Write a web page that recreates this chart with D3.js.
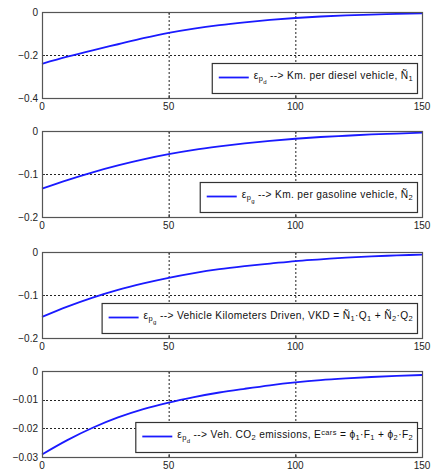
<!DOCTYPE html>
<html>
<head>
<meta charset="utf-8">
<script src="https://cdn.jsdelivr.net/npm/d3@7"></script>
<style>
  body { margin: 0; background: #fff; }
  svg { display: block; font-family: "Liberation Sans", Arial, sans-serif; }
</style>
</head>
<body>
<script>
const width = 432;
const height = 475;

// data
const xs = [0, 10, 20, 30, 40, 50, 60, 70, 80, 90, 100, 110, 120, 130, 140, 150];
const dieselKm = [-0.241, -0.208, -0.178, -0.150, -0.122, -0.097, -0.077, -0.061, -0.048, -0.037, -0.028, -0.021, -0.016, -0.012, -0.009, -0.006];
const gasolineKm = [-0.134, -0.114, -0.096, -0.080, -0.066, -0.054, -0.044, -0.036, -0.029, -0.023, -0.018, -0.014, -0.011, -0.008, -0.006, -0.004];
const vkd = [-0.151, -0.127, -0.106, -0.088, -0.073, -0.060, -0.049, -0.040, -0.033, -0.027, -0.021, -0.017, -0.013, -0.010, -0.008, -0.006];
const co2 = [-0.0291, -0.0241, -0.0198, -0.0162, -0.0133, -0.0110, -0.0091, -0.0075, -0.0062, -0.0050, -0.0040, -0.0032, -0.0026, -0.0021, -0.0017, -0.0014];

const xTicks = [0, 50, 100, 150];
const yTicks1 = [0, -0.2, -0.4];
const yTicks2 = [0, -0.1, -0.2];
const yTicks3 = [0, -0.1, -0.2];
const yTicks4 = [0, -0.01, -0.02, -0.03];

// legend pieces: [text, kind] ; 'sub' = subscript, 'sub2' = sub-subscript, 'sup' = superscript
const legend1 = [['ε', ''], ['p', 'sub'], ['d', 'sub2'], [' --> Km. per diesel vehicle, Ñ', ''], ['1', 'sub']];
const legend2 = [['ε', ''], ['p', 'sub'], ['g', 'sub2'], [' --> Km. per gasoline vehicle, Ñ', ''], ['2', 'sub']];
const legend3 = [['ε', ''], ['p', 'sub'], ['g', 'sub2'], [' --> Vehicle Kilometers Driven, VKD = Ñ', ''], ['1', 'sub'], ['·Q', ''], ['1', 'sub'], [' + Ñ', ''], ['2', 'sub'], ['·Q', ''], ['2', 'sub']];
const legend4 = [['ε', ''], ['p', 'sub'], ['d', 'sub2'], [' --> Veh. CO', ''], ['2', 'sub'], [' emissions, E', ''], ['cars', 'sup'], [' = ϕ', ''], ['1', 'sub'], ['·F', ''], ['1', 'sub'], [' + ϕ', ''], ['2', 'sub'], ['·F', ''], ['2', 'sub']];

const panels = [
    { top: 12, values: dieselKm, domain: [-0.4, 0], ticks: yTicks1, legend: legend1 },
    { top: 131, values: gasolineKm, domain: [-0.2, 0], ticks: yTicks2, legend: legend2 },
    { top: 252, values: vkd, domain: [-0.2, 0], ticks: yTicks3, legend: legend3 },
    { top: 371, values: co2, domain: [-0.03, 0], ticks: yTicks4, legend: legend4 }
];

const left = 42;
const right = 422;
const panelHeight = 86;

const svg = d3.select('body')
    .append('svg')
    .attr('width', width)
    .attr('height', height);

const x = d3.scaleLinear().domain([0, 150]).range([left, right]);

panels.forEach(p => {
    const y = d3.scaleLinear().domain(p.domain).range([p.top + panelHeight, p.top]);
    const g = svg.append('g');

    // grid (dotted), interior ticks only
    g.selectAll('.vgrid')
        .data(xTicks.slice(1, -1))
        .enter()
        .append('line')
        .attr('x1', d => x(d) + 0.5)
        .attr('x2', d => x(d) + 0.5)
        .attr('y1', p.top)
        .attr('y2', p.top + panelHeight)
        .attr('stroke', '#222')
        .attr('stroke-width', 1)
        .attr('stroke-dasharray', '2,2');
    g.selectAll('.hgrid')
        .data(p.ticks.slice(1, -1))
        .enter()
        .append('line')
        .attr('x1', left)
        .attr('x2', right)
        .attr('y1', d => Math.round(y(d)) + 0.5)
        .attr('y2', d => Math.round(y(d)) + 0.5)
        .attr('stroke', '#222')
        .attr('stroke-width', 1)
        .attr('stroke-dasharray', '2,2');

    // inward ticks
    xTicks.forEach(t => {
        g.append('line')
            .attr('x1', x(t) + 0.5).attr('x2', x(t) + 0.5)
            .attr('y1', p.top + panelHeight).attr('y2', p.top + panelHeight - 3)
            .attr('stroke', '#333');
        g.append('line')
            .attr('x1', x(t) + 0.5).attr('x2', x(t) + 0.5)
            .attr('y1', p.top).attr('y2', p.top + 3)
            .attr('stroke', '#333');
    });
    p.ticks.forEach(t => {
        g.append('line')
            .attr('x1', left).attr('x2', left + 3)
            .attr('y1', Math.round(y(t)) + 0.5).attr('y2', Math.round(y(t)) + 0.5)
            .attr('stroke', '#333');
        g.append('line')
            .attr('x1', right - 3).attr('x2', right)
            .attr('y1', Math.round(y(t)) + 0.5).attr('y2', Math.round(y(t)) + 0.5)
            .attr('stroke', '#333');
    });

    // curve
    const line = d3.line()
        .x((d, i) => x(xs[i]))
        .y(d => y(d))
        .curve(d3.curveMonotoneX);
    g.append('path')
        .datum(p.values)
        .attr('d', line)
        .attr('fill', 'none')
        .attr('stroke', '#1a1aff')
        .attr('stroke-width', 1.8);

    // box
    g.append('rect')
        .attr('x', left + 0.5)
        .attr('y', p.top + 0.5)
        .attr('width', right - left)
        .attr('height', panelHeight)
        .attr('fill', 'none')
        .attr('stroke', '#555')
        .attr('stroke-width', 1.2);

    // tick labels
    g.selectAll('.ylab')
        .data(p.ticks)
        .enter()
        .append('text')
        .attr('x', left - 4)
        .attr('y', d => y(d) + 3.5)
        .attr('text-anchor', 'end')
        .style('font-size', '10px')
        .attr('fill', '#222')
        .text(d => d3.format('')(d));
    g.selectAll('.xlab')
        .data(xTicks)
        .enter()
        .append('text')
        .attr('x', d => x(d))
        .attr('y', p.top + panelHeight + 12)
        .attr('text-anchor', 'middle')
        .style('font-size', '10px')
        .attr('fill', '#222')
        .text(d => d);

    // legend
    const lg = g.append('g');
    const boxTop = p.top + 51;
    const boxRight = 417;
    const txt = lg.append('text')
        .attr('y', boxTop + 16)
        .style('font-size', '10.2px')
        .style('letter-spacing', '0.35px')
        .attr('fill', '#111');
    p.legend.forEach(([s, kind]) => {
        const ts = txt.append('tspan').text(s);
        if (kind === 'sub') ts.attr('baseline-shift', '-30%').style('font-size', '7.5px');
        if (kind === 'sub2') ts.attr('baseline-shift', '-75%').style('font-size', '6px');
        if (kind === 'sup') ts.attr('baseline-shift', '35%').style('font-size', '7.5px');
    });
    const tw = txt.node().getComputedTextLength();
    const textX = boxRight - 4 - tw;
    txt.attr('x', textX);
    const boxLeft = textX - 42;
    lg.insert('rect', 'text')
        .attr('x', boxLeft + 0.5)
        .attr('y', boxTop + 0.5)
        .attr('width', boxRight - boxLeft)
        .attr('height', 30)
        .attr('fill', '#fff')
        .attr('stroke', '#333')
        .attr('stroke-width', 1.2);
    lg.append('line')
        .attr('x1', boxLeft + 7)
        .attr('x2', boxLeft + 37)
        .attr('y1', boxTop + 14.5)
        .attr('y2', boxTop + 14.5)
        .attr('stroke', '#1a1aff')
        .attr('stroke-width', 1.8);
});
</script>
</body>
</html>
